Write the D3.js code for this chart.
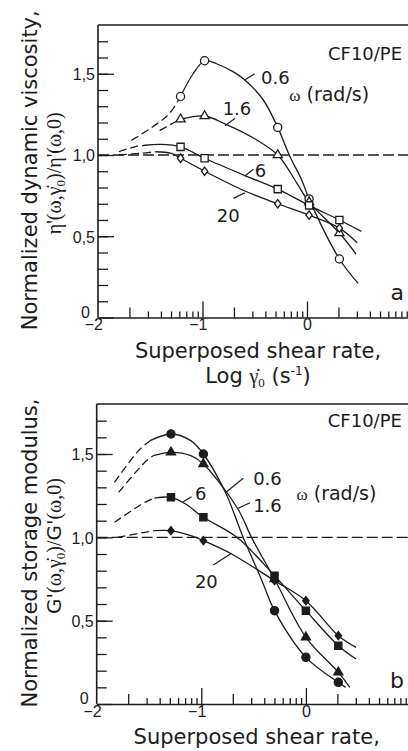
<!DOCTYPE html>
<html>
<head>
<meta charset="utf-8">
<script src="https://cdn.jsdelivr.net/npm/d3@7"></script>
<style>
  body { margin: 0; background: #fff; }
  text { fill: #1c1c1c; }
</style>
</head>
<body>
<svg id="chart" width="408" height="751"></svg>
<script>
// ---- data ----
// log10 of the superposed shear rate (s^-1) for the measured points
var logRateA = [-1.21, -0.98, -0.28, 0.02, 0.31]
var logRateB = [-1.29, -0.98, -0.30, 0.00, 0.31]

var omegaLabels = ["0.6", "1.6", "6", "20"]

// (a) normalized dynamic viscosity, one array per omega
var eta06 = [1.36, 1.58, 1.17, 0.73, 0.36]
var eta16 = [1.22, 1.24, 1.00, 0.71, 0.52]
var eta6  = [1.05, 0.98, 0.79, 0.69, 0.60]
var eta20 = [0.98, 0.90, 0.70, 0.63, 0.55]

// (a) drawn curves: dashed extrapolation + solid fit, [logRate, value]
var etaDash06 = [[-1.68, 1.09], [-1.44, 1.19], [-1.31, 1.26], [-1.21, 1.36]]
var etaFit06  = [[-1.21, 1.36], [-1.09, 1.50], [-0.98, 1.58], [-0.86, 1.56], [-0.70, 1.51], [-0.60, 1.465],
                 [-0.42, 1.34], [-0.28, 1.17], [-0.17, 1.00], [-0.05, 0.845], [0.02, 0.73], [0.31, 0.36], [0.49, 0.21]]
var etaDash16 = [[-1.41, 1.15], [-1.30, 1.19], [-1.21, 1.22]]
var etaFit16  = [[-1.21, 1.22], [-0.98, 1.24], [-0.78, 1.19], [-0.50, 1.10], [-0.28, 1.00], [-0.10, 0.83],
                 [0.02, 0.71], [0.31, 0.52], [0.47, 0.39]]
var etaDash6  = [[-1.80, 1.02], [-1.65, 1.05], [-1.55, 1.06]]
var etaFit6   = [[-1.55, 1.06], [-1.40, 1.065], [-1.21, 1.05], [-0.98, 0.98], [-0.60, 0.875], [-0.28, 0.79],
                 [0.02, 0.69], [0.31, 0.60], [0.52, 0.53]]
var etaDash20 = [[-1.80, 1.00], [-1.60, 1.01], [-1.45, 1.02]]
var etaFit20  = [[-1.45, 1.02], [-1.30, 1.01], [-1.21, 0.98], [-0.98, 0.90], [-0.60, 0.78], [-0.28, 0.70],
                 [0.02, 0.63], [0.31, 0.55], [0.48, 0.46]]

// (b) normalized storage modulus
var g06 = [1.62, 1.50, 0.56, 0.28, 0.13]
var g16 = [1.51, 1.44, 0.75, 0.40, 0.19]
var g6  = [1.24, 1.12, 0.77, 0.56, 0.35]
var g20 = [1.04, 0.98, 0.74, 0.62, 0.41]

var gDash06 = [[-1.83, 1.33], [-1.60, 1.52], [-1.49, 1.58]]
var gFit06  = [[-1.49, 1.58], [-1.29, 1.62], [-1.10, 1.58], [-0.98, 1.50], [-0.77, 1.27], [-0.60, 1.00],
               [-0.42, 0.74], [-0.30, 0.56], [0.00, 0.28], [0.31, 0.13], [0.38, 0.10]]
var gDash16 = [[-1.79, 1.27], [-1.54, 1.45], [-1.46, 1.49]]
var gFit16  = [[-1.46, 1.49], [-1.29, 1.51], [-1.10, 1.49], [-0.98, 1.44], [-0.65, 1.17], [-0.52, 1.00],
               [-0.30, 0.75], [0.00, 0.40], [0.31, 0.19], [0.42, 0.10]]
var gDash6  = [[-1.83, 1.09], [-1.54, 1.21], [-1.45, 1.235]]
var gFit6   = [[-1.45, 1.235], [-1.29, 1.24], [-1.15, 1.20], [-0.98, 1.12], [-0.66, 1.00], [-0.30, 0.77],
               [0.00, 0.56], [0.31, 0.35], [0.48, 0.27]]
var gDash20 = [[-1.80, 1.00], [-1.54, 1.03], [-1.45, 1.04]]
var gFit20  = [[-1.45, 1.04], [-1.29, 1.04], [-1.10, 1.01], [-0.98, 0.98], [-0.71, 0.90], [-0.30, 0.74],
               [0.00, 0.62], [0.31, 0.41], [0.48, 0.34]]

var yTickLabels = ["0", "0,5", "1,0", "1,5"]
var xTickLabels = ["\u22122", "\u22121", "0", ""]   // the 1 sits past the right edge

// ---- drawing ----
var svg = d3.select("#chart")
svg.append("rect").attr("width", 408).attr("height", 751).attr("fill", "#fff")

var SANS = "'DejaVu Sans', Verdana, sans-serif"
var SERIF = "'Liberation Serif', 'DejaVu Serif', serif"
var TICKFONT = "'Liberation Sans', Arial, sans-serif"
var INK = "#1c1c1c"

// narrower diamond than d3's own
var diamond = {
  draw: function(ctx, size) {
    var h = Math.sqrt(size) * 0.62, w = h * 0.78
    ctx.moveTo(0, -h); ctx.lineTo(w, 0); ctx.lineTo(0, h); ctx.lineTo(-w, 0); ctx.closePath()
  }
}
var symbolTypes = [d3.symbolCircle, d3.symbolTriangle, d3.symbolSquare, diamond]
var symbolSizes = [52, 36, 52, 44]

function logTicks() {
  var t = []
  for (var dec = -2; dec <= 0; dec++) {
    for (var k = 1; k <= 9; k++) t.push(dec + Math.log10(k))
  }
  t.push(1)
  return t
}

function drawPanel(p) {
  var x = d3.scaleLinear().domain([-2, 1]).range([p.left, p.left + 3 * p.decade])
  var y = d3.scaleLinear().domain([0, 1.8]).range([p.bottom, p.top])
  var g = svg.append("g")

  // reference line at 1.0
  g.append("line")
    .attr("x1", x(-2)).attr("x2", x(1))
    .attr("y1", y(1)).attr("y2", y(1))
    .attr("stroke", INK).attr("stroke-width", 1.3)
    .attr("stroke-dasharray", "11,4")

  // top border
  g.append("line")
    .attr("x1", x(-2)).attr("x2", x(1))
    .attr("y1", y(1.8)).attr("y2", y(1.8))
    .attr("stroke", INK).attr("stroke-width", 1.6)

  // left axis: minor ticks every 0.1, labelled majors every 0.5
  var yMinor = g.append("g").attr("transform", "translate(" + x(-2) + ",0)")
    .call(d3.axisLeft(y).tickValues(d3.range(1, 18).map(function(i) { return i / 10 }))
      .tickSize(-10).tickSizeOuter(0).tickFormat(""))
  yMinor.select(".domain").remove()

  var yMajor = g.append("g").attr("transform", "translate(" + x(-2) + ",0)")
    .call(d3.axisLeft(y).tickValues([0, 0.5, 1.0, 1.5])
      .tickSize(-16).tickSizeOuter(0).tickPadding(3)
      .tickFormat(function(d, i) { return yTickLabels[i] }))
  yMajor.select(".domain").attr("d", "M0," + y(0) + "V" + y(1.8))
  yMajor.selectAll("text").attr("font-family", TICKFONT).attr("font-size", 16).attr("fill", INK)
    .attr("dy", "0.36em")
  // the zero sits just above the corner, clear of the -2
  yMajor.selectAll(".tick").filter(function(d) { return d === 0 })
    .select("text").attr("x", -8).attr("dy", "-0.02em")

  // bottom axis: log minor ticks
  var xAxis = g.append("g").attr("transform", "translate(0," + y(0) + ")")
    .call(d3.axisBottom(x).tickValues(logTicks())
      .tickSize(-6).tickSizeOuter(0).tickPadding(3)
      .tickFormat(function(d) {
        var r = Math.round(d)
        return Math.abs(d - r) < 1e-9 ? xTickLabels[r + 2] : ""
      }))
  xAxis.selectAll(".tick line").attr("y2", function(d) {
    var frac = d - Math.floor(d + 1e-9)
    if (frac < 1e-9) return d === -2 ? 0 : -16
    if (Math.abs(frac - Math.log10(2)) < 1e-6) return -10
    return -6
  })
  xAxis.selectAll("text").attr("font-family", TICKFONT).attr("font-size", 16).attr("fill", INK)
    .attr("text-anchor", "end").attr("dx", 4.5).attr("dy", "0.6em")

  g.selectAll(".domain").attr("stroke", INK).attr("stroke-width", 1.6)
  g.selectAll(".tick line").attr("stroke", INK).attr("stroke-width", 1.3)

  // curves
  var line = d3.line()
    .x(function(d) { return x(d[0]) })
    .y(function(d) { return y(d[1]) })
    .curve(d3.curveCatmullRom.alpha(0.5))

  p.dashes.forEach(function(c) {
    g.append("path").attr("d", line(c)).attr("fill", "none")
      .attr("stroke", INK).attr("stroke-width", 1.3).attr("stroke-dasharray", "8,4")
  })
  p.fits.forEach(function(c) {
    g.append("path").attr("d", line(c)).attr("fill", "none")
      .attr("stroke", INK).attr("stroke-width", 1.3)
  })

  // markers
  p.series.forEach(function(vals, si) {
    var sym = d3.symbol().type(symbolTypes[si]).size(symbolSizes[si])
    g.selectAll(null).data(vals).enter().append("path")
      .attr("d", sym)
      .attr("transform", function(v, i) {
        return "translate(" + x(p.rates[i]) + "," + y(v) + ")"
      })
      .attr("fill", p.filled ? INK : "#fff")
      .attr("stroke", INK).attr("stroke-width", 1.3)
  })

  // omega labels with leader strokes
  p.labels.forEach(function(l, i) {
    g.append("text").attr("x", x(l.at[0])).attr("y", y(l.at[1]))
      .attr("font-family", SANS).attr("font-size", 18).text(omegaLabels[i])
    g.append("line")
      .attr("x1", x(l.lead[0][0])).attr("y1", y(l.lead[0][1]))
      .attr("x2", x(l.lead[1][0])).attr("y2", y(l.lead[1][1]))
      .attr("stroke", INK).attr("stroke-width", 1.2)
  })

  var unit = g.append("text").attr("x", x(p.unitAt[0])).attr("y", y(p.unitAt[1]))
    .attr("font-family", SANS).attr("font-size", 19)
  unit.append("tspan").attr("font-family", SERIF).attr("font-size", 17).text("\u03C9")
  unit.append("tspan").text(" (rad/s)")

  g.append("text").attr("x", x(p.sampleAt[0])).attr("y", y(p.sampleAt[1]))
    .attr("text-anchor", "end").attr("font-family", SANS).attr("font-size", 18).text("CF10/PE")

  g.append("text").attr("x", x(p.letterAt[0])).attr("y", y(p.letterAt[1]))
    .attr("font-family", SANS).attr("font-size", 22).text(p.letter)

  // x title (second line only where it fits on the page)
  var cx = p.left + 160
  g.append("text").attr("x", cx).attr("y", y(0) + 40)
    .attr("text-anchor", "middle").attr("font-family", SANS).attr("font-size", 21)
    .text("Superposed shear rate,")
  if (p.showLogLine) {
    var t2 = g.append("text").attr("x", cx).attr("y", y(0) + 65)
      .attr("text-anchor", "middle").attr("font-family", SANS).attr("font-size", 21)
    t2.append("tspan").text("Log ")
    t2.append("tspan").attr("font-family", SERIF).attr("font-size", 20).text("\u03B3\u0307")
    t2.append("tspan").attr("font-family", SERIF).attr("font-size", 13).attr("dy", 4).text("0")
    t2.append("tspan").attr("dy", -4).text(" (s")
    t2.append("tspan").attr("font-size", 12).attr("dy", -8).text("-1")
    t2.append("tspan").attr("dy", 8).text(")")
  }

  // y title
  var my = (y(0) + y(1.8)) / 2
  g.append("text").attr("transform", "translate(37," + (my - 1) + ") rotate(-90)")
    .attr("text-anchor", "middle").attr("font-family", SANS).attr("font-size", 21)
    .text(p.yTitle)
  var q = g.append("text").attr("transform", "translate(61," + (my + p.y2Shift) + ") rotate(-90)")
    .attr("text-anchor", "middle").attr("font-family", SERIF).attr("font-size", 20)
  p.yTitle2(q)
}

function ratioLabel(sym, symFont) {
  return function(q) {
    q.append("tspan").attr("font-family", symFont).text(sym + "'")
    q.append("tspan").text("(\u03C9,\u03B3\u0307")
    q.append("tspan").attr("font-size", 13).attr("dy", 4).text("0")
    q.append("tspan").attr("dy", -4).text(")/")
    q.append("tspan").attr("font-family", symFont).text(sym + "'")
    q.append("tspan").text("(\u03C9,0)")
  }
}

drawPanel({
  left: 98, decade: 104.5, top: 25, bottom: 317.5,
  rates: logRateA, series: [eta06, eta16, eta6, eta20], filled: false,
  dashes: [etaDash06, etaDash16, etaDash6, etaDash20],
  fits: [etaFit06, etaFit16, etaFit6, etaFit20],
  labels: [
    { at: [-0.44, 1.44], lead: [[-0.60, 1.46], [-0.50, 1.50]] },
    { at: [-0.807, 1.245], lead: [[-0.785, 1.18], [-0.69, 1.225]] },
    { at: [-0.50, 0.867], lead: [[-0.593, 0.871], [-0.514, 0.912]] },
    { at: [-0.864, 0.59], lead: [[-0.705, 0.733], [-0.593, 0.768]] }
  ],
  unitAt: [-0.17, 1.33], sampleAt: [0.91, 1.585], letterAt: [0.80, 0.105], letter: "a",
  showLogLine: true,
  yTitle: "Normalized dynamic viscosity,", y2Shift: 2,
  yTitle2: ratioLabel("\u03B7", SERIF)
})

drawPanel({
  left: 96.7, decade: 104.6, top: 404, bottom: 704,
  rates: logRateB, series: [g06, g16, g6, g20], filled: true,
  dashes: [gDash06, gDash16, gDash6, gDash20],
  fits: [gFit06, gFit16, gFit6, gFit20],
  labels: [
    { at: [-0.504, 1.314], lead: [[-0.758, 1.274], [-0.599, 1.354]] },
    { at: [-0.504, 1.154], lead: [[-0.647, 1.174], [-0.535, 1.208]] },
    { at: [-1.06, 1.224], lead: [[-1.173, 1.214], [-1.093, 1.244]] },
    { at: [-1.061, 0.694], lead: [[-0.886, 0.834], [-0.71, 0.904]] }
  ],
  unitAt: [-0.09, 1.224], sampleAt: [0.918, 1.663], letterAt: [0.803, 0.094], letter: "b",
  showLogLine: false,
  yTitle: "Normalized storage modulus,", y2Shift: -8,
  yTitle2: ratioLabel("G", SANS)
})
</script>
</body>
</html>
